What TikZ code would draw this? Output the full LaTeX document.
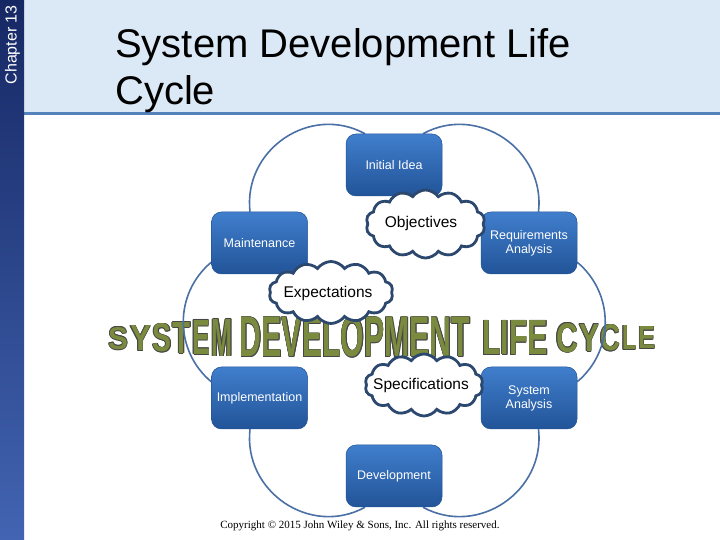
\documentclass[tikz,border=0pt]{standalone}
\usepackage{fontspec}
\setmainfont{Liberation Sans}
\newfontfamily\copyfont{Liberation Serif}
\usetikzlibrary{shapes.symbols}
\definecolor{sidetop}{RGB}{22,40,100}
\definecolor{sidebot}{RGB}{66,100,178}
\definecolor{headbg}{RGB}{219,232,245}
\definecolor{headrule}{RGB}{84,130,186}
\definecolor{boxtop}{RGB}{64,126,204}
\definecolor{boxbot}{RGB}{34,84,152}
\definecolor{cycline}{RGB}{74,112,165}
\definecolor{cloudline}{RGB}{44,72,110}
\definecolor{wafill}{RGB}{122,138,62}
\definecolor{waline}{RGB}{70,70,70}
\pgfdeclarelayer{bg}
\pgfdeclarelayer{arcs}
\pgfsetlayers{bg,arcs,main}
\newcommand\wordpiece[6]{%
  \foreach \dx/\dy in {-0.7/0,0.7/0,0/-0.7,0/0.7,-0.5/-0.5,0.5/0.5,-0.5/0.5,0.5/-0.5}{%
    \node[inner sep=0pt,text=waline,xshift=\dx pt,yshift=\dy pt] at (#2,#3) {\resizebox{#4pt}{#5pt}{\bfseries #6}};}
  \node[inner sep=0pt,text=wafill] (#1) at (#2,#3) {\resizebox{#4pt}{#5pt}{\bfseries #6}};
}
\begin{document}
\begin{tikzpicture}[x=1pt,y=1pt,
  stage/.style={rounded corners=10pt, top color=boxtop, bottom color=boxbot, draw=boxbot, line width=0.5pt,
    minimum width=96pt, minimum height=62pt, inner sep=2pt, text=white, align=center,
    font=\fontsize{12.5}{14}\selectfont},
  cyc/.style={draw=cycline, line width=1.6pt},
  puff/.style={cloud, cloud puffs=14, cloud puff arc=110, cloud ignores aspect, draw=cloudline,
    line width=2.8pt, fill=white, inner sep=0pt},
  cloudtxt/.style={font=\fontsize{15.5}{17}\selectfont, text=black, inner sep=0pt},
]
\useasboundingbox (0,0) rectangle (720,540);
\begin{pgfonlayer}{bg}
\fill[white] (0,0) rectangle (720,540);
\fill[headbg] (24,428) rectangle (720,540);
\fill[headrule] (24,424.5) rectangle (720,428);
\shade[top color=sidetop, bottom color=sidebot] (0,0) rectangle (24,540);
\node[rotate=90, anchor=east, text=white, font=\fontsize{16}{18}\selectfont, inner sep=0pt] (chap) at (12.5,535) {Chapter 13};
\node[anchor=base west, font=\fontsize{40}{46}\selectfont, inner sep=0pt] (t1) at (115,482) {System Development Life};
\node[anchor=base west, font=\fontsize{40}{46}\selectfont, inner sep=0pt] (t2) at (115,435) {Cycle};
% WordArt: SYSTEM (growing), DEVELOPMENT, LIFE, CYCLE (shrinking)
\wordpiece{wa1}{118}{201.5}{20}{22}{S}
\wordpiece{wa2}{140.5}{201.5}{21}{25}{Y}
\wordpiece{wa3}{162}{202}{19}{28}{S}
\wordpiece{wa4}{181.5}{202}{18}{31}{T}
\wordpiece{wa5}{201}{202.5}{18}{34}{E}
\wordpiece{wa6}{222}{202.5}{21}{37}{M}
\wordpiece{wa7}{355}{203}{230}{40}{DEVELOPMENT}
\wordpiece{wa8}{515}{202}{66}{34}{LIFE}
\wordpiece{wa9}{567}{202}{22}{29}{C}
\wordpiece{wa10}{589}{202}{20}{27}{Y}
\wordpiece{wa11}{610}{202}{20}{26}{C}
\wordpiece{wa12}{629}{202}{14}{24}{L}
\wordpiece{wa13}{646.5}{202}{17}{22}{E}
\end{pgfonlayer}

\node[stage] (init) at (394,375) {Initial Idea};
\node[stage] (maint) at (259.5,297) {Maintenance};
\node[stage] (req) at (529,297) {Requirements\\Analysis};
\node[stage] (impl) at (259.5,142) {Implementation};
\node[stage] (sysa) at (529,142) {System\\Analysis};
\node[stage] (dev) at (394,64) {Development};

\begin{pgfonlayer}{arcs}
\draw[cyc] ([xshift=-9.5pt]maint.north) .. controls +(-7,62) and +(-55,30) .. ([xshift=-29pt]init.north);
\draw[cyc] ([xshift=29pt]init.north) .. controls +(55,30) and +(7,62) .. ([xshift=9.5pt]req.north);
\draw[cyc] ([yshift=12pt]req.south east) .. controls +(37.3,-31.3) and +(37.3,31.3) .. ([yshift=-15pt]sysa.north east);
\draw[cyc] ([xshift=9.5pt]sysa.south) .. controls +(7,-62) and +(55,-30) .. ([xshift=29pt]dev.south);
\draw[cyc] ([xshift=-29pt]dev.south) .. controls +(-55,-30) and +(-7,-62) .. ([xshift=-9.5pt]impl.south);
\draw[cyc] ([yshift=-15pt]impl.north west) .. controls +(-37.3,31.3) and +(-37.3,-31.3) .. ([yshift=12pt]maint.south west);
\end{pgfonlayer}

\node[puff, minimum width=119pt, minimum height=68pt] (objc) at (425.5,316) {};
\node[cloudtxt] (obj) at (421,317) {Objectives};
\node[puff, minimum width=124pt, minimum height=62pt] (expc) at (331,247.5) {};
\node[cloudtxt] (exp) at (328,247) {Expectations};
\node[puff, minimum width=118pt, minimum height=62pt] (specc) at (424,155) {};
\node[cloudtxt] (spec) at (421,155) {Specifications};

\node[font=\copyfont\fontsize{11}{13}\selectfont, inner sep=0pt] (copy) at (360,14) {Copyright © 2015 John Wiley \& Sons, Inc. All rights reserved.};
\end{tikzpicture}
\end{document}
